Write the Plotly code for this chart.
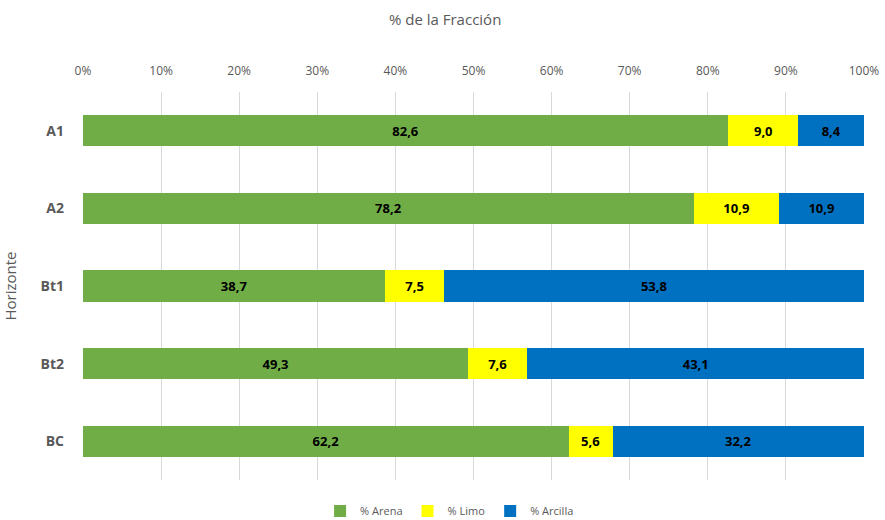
import plotly.graph_objects as go

horizontes = ["A1", "A2", "Bt1", "Bt2", "BC"]
arena = [82.6, 78.2, 38.7, 49.3, 62.2]
limo = [9.0, 10.9, 7.5, 7.6, 5.6]
arcilla = [8.4, 10.9, 53.8, 43.1, 32.2]
tick_vals = [0, 10, 20, 30, 40, 50, 60, 70, 80, 90, 100]
tick_text = [f"{v}%" for v in tick_vals]

series = [
    ("% Arena", arena, "#70AD47"),
    ("% Limo", limo, "#FFFF00"),
    ("% Arcilla", arcilla, "#0070C0"),
]

font_family = "Open Sans, Liberation Sans, sans-serif"

fig = go.Figure()
for name, vals, color in series:
    fig.add_trace(go.Bar(
        y=horizontes, x=vals, name=name, orientation="h",
        marker=dict(color=color, line=dict(width=0)),
        width=0.4,
        texttemplate="<b>%{x:.1f}</b>", textposition="inside",
        insidetextanchor="middle",
        textfont=dict(color="#000000", size=13, family=font_family),
        constraintext="none",
    ))

fig.update_layout(
    barmode="stack",
    width=885, height=520,
    margin=dict(l=83, r=21, t=92, b=40, autoexpand=False),
    paper_bgcolor="white", plot_bgcolor="white",
    separators=",.",
    font=dict(family=font_family, color="#595959"),
    title=dict(text="% de la Fracción", x=0.503, xref="container", xanchor="center",
               y=1 - 20 / 520, yref="container", yanchor="middle",
               font=dict(size=15, color="#595959", family=font_family)),
    xaxis=dict(side="top", range=[0, 100], tickmode="array", tickvals=tick_vals, ticktext=tick_text,
               showgrid=True, gridcolor="#D9D9D9", gridwidth=1, zeroline=False,
               showline=False, tickfont=dict(size=12, color="#595959"), ticklen=0,
               ticklabelstandoff=14, automargin=False, fixedrange=True),
    yaxis=dict(categoryorder="array", categoryarray=horizontes, autorange="reversed",
               title=dict(text="Horizonte", font=dict(size=15, color="#595959"), standoff=22),
               tickfont=dict(size=14, color="#595959", family=font_family),
               ticklabelstandoff=18, automargin=False,
               showgrid=False, showline=False, zeroline=False),
    legend=dict(orientation="h", x=0.508, xref="container", xanchor="center",
                y=9 / 520, yref="container", yanchor="middle",
                font=dict(size=11, color="#595959"), itemwidth=30,
                traceorder="normal"),
    bargap=0.6,
)
fig.update_yaxes(ticktext=[f"<b>{h}</b>" for h in horizontes], tickvals=horizontes)

fig.write_html("out.html", config={"displayModeBar": False},
               post_script="document.body.style.margin='0';")
